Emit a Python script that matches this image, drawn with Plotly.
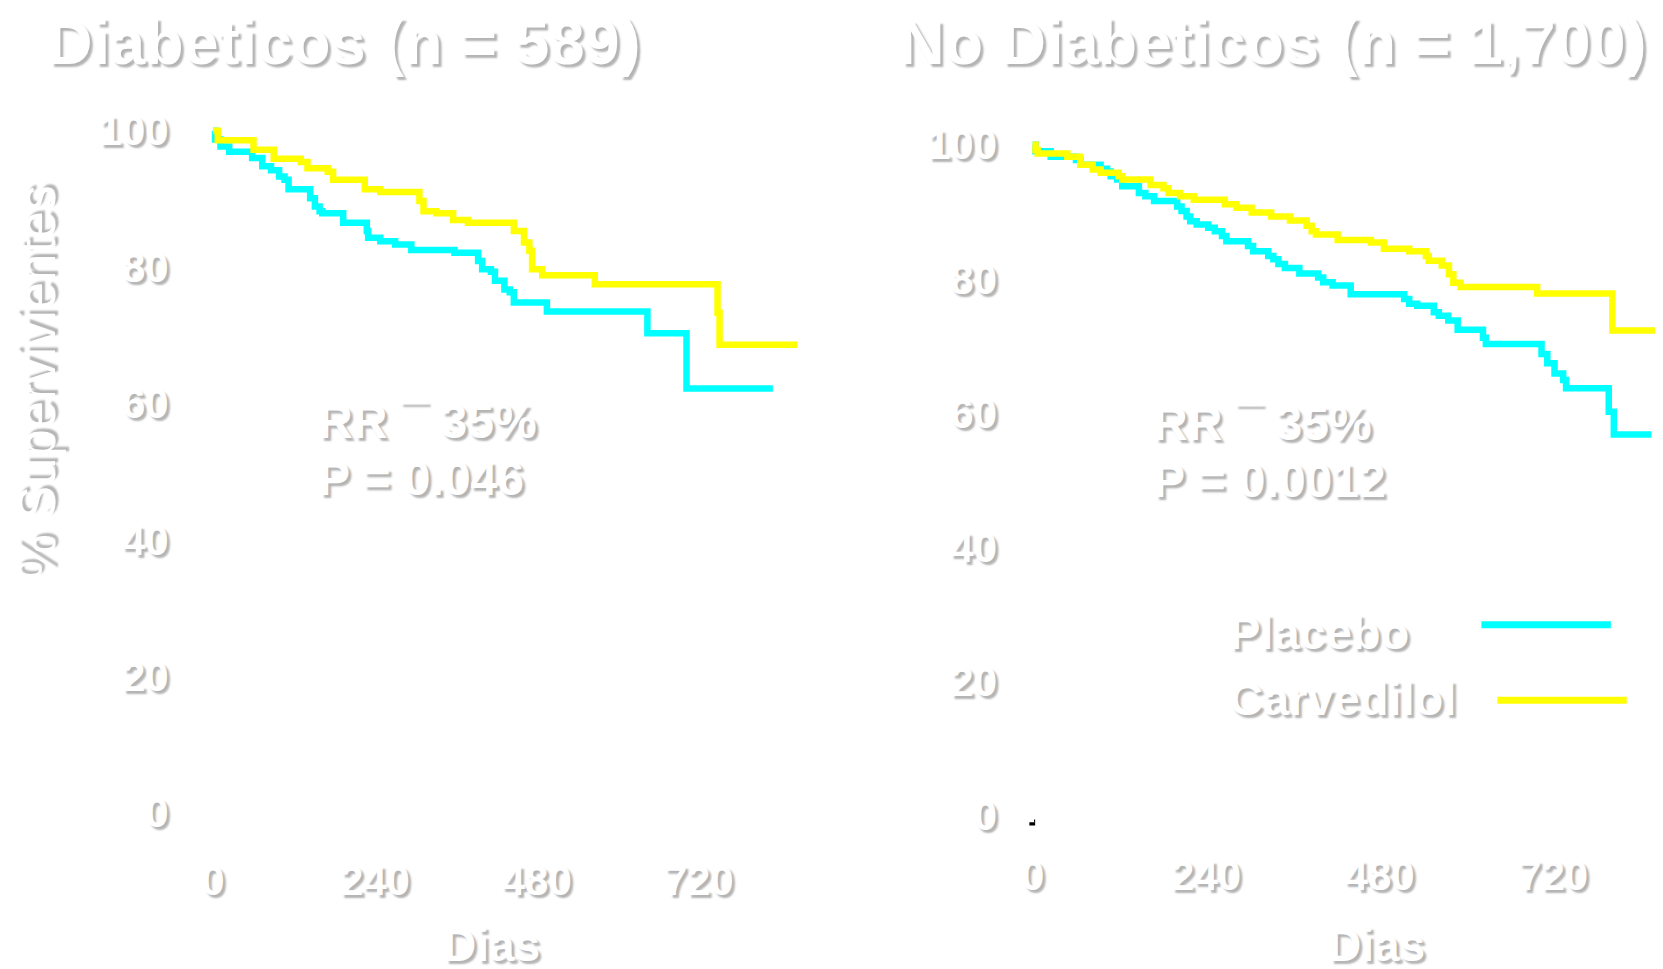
import plotly.graph_objects as go

# ---------------- data ----------------
# Diabeticos (n = 589)
dia_placebo_days = [0, 3, 11, 24, 58, 73, 86, 98, 106, 112, 144, 151, 158, 162, 193, 228, 230,
                    248, 270, 294, 358, 393, 399, 412, 418, 432, 440, 446, 495, 644, 702, 830]
dia_placebo_surv = [100, 98.7, 97.7, 96.9, 96.0, 94.8, 94.2, 93.3, 92.8, 91.4, 90.1, 88.9, 88.2,
                    87.9, 86.5, 85.3, 84.3, 83.8, 83.3, 82.5, 82.1, 80.9, 79.7, 79.3, 78.0, 76.7,
                    76.3, 74.8, 73.5, 70.3, 62.2, 62.2]
dia_carv_days = [0, 7, 60, 90, 130, 140, 170, 178, 225, 248, 306, 312, 331, 356, 378, 446, 461,
                 469, 473, 488, 566, 748, 751, 866]
dia_carv_surv = [100, 98.6, 97.2, 95.9, 95.4, 94.5, 94.0, 92.8, 91.4, 91.0, 89.7, 88.2, 87.9,
                 86.9, 86.5, 85.3, 83.6, 82.4, 79.7, 78.8, 77.5, 73.3, 68.6, 68.6]

# No Diabeticos (n = 1,700)
nodia_placebo_days = [0, 4, 25, 60, 66, 94, 103, 108, 117, 124, 147, 156, 168, 200, 206, 213, 218,
                      227, 243, 252, 262, 268, 298, 305, 326, 333, 340, 349, 369, 395, 402, 415,
                      440, 514, 521, 532, 555, 562, 575, 588, 623, 627, 704, 712, 722, 734, 738,
                      797, 804, 856]
nodia_placebo_surv = [100, 99.0, 98.2, 97.7, 97.0, 96.4, 96.0, 95.3, 94.8, 93.8, 92.8, 92.3, 91.6,
                      90.8, 90.1, 89.3, 88.6, 88.1, 87.6, 87.1, 86.4, 85.6, 84.9, 84.1, 83.4, 82.9,
                      82.2, 81.6, 80.8, 80.2, 79.5, 79.0, 77.7, 77.0, 76.3, 76.0, 75.0, 74.5, 73.8,
                      72.4, 71.2, 70.3, 68.8, 67.4, 65.9, 64.9, 63.7, 60.2, 56.8, 56.8]
nodia_carv_days = [0, 4, 7, 48, 66, 83, 94, 119, 124, 163, 181, 188, 204, 223, 266, 282, 303, 330,
                   356, 379, 386, 392, 422, 468, 486, 521, 544, 548, 566, 576, 582, 592, 698, 802,
                   867]
nodia_carv_surv = [100, 99.2, 98.7, 98.2, 97.0, 96.3, 95.8, 95.3, 94.8, 94.0, 93.5, 92.8, 92.3,
                   91.8, 91.1, 90.6, 89.9, 89.3, 88.7, 87.9, 87.1, 86.6, 85.8, 85.4, 84.5, 84.1,
                   83.4, 82.7, 82.0, 80.7, 79.4, 78.8, 77.8, 72.3, 72.3]

x_ticks = [0, 240, 480, 720]
y_ticks = [0, 20, 40, 60, 80, 100]

panel_titles = ["Diabeticos (n = 589)", "No Diabeticos (n = 1,700)"]
rr_text = ["RR ¯ 35%", "RR ¯ 35%"]
p_text = ["P = 0.046", "P = 0.0012"]
series_names = ["Placebo", "Carvedilol"]
series_colors = ["#00FFFF", "#FFFF00"]

# ---------------- styling ----------------
W, H = 1663, 969
FAM = "Liberation Sans, Arial, sans-serif"
SHADOW = "3px 3px 2px #b4b4b4"


def tfont(size, weight="bold"):
    return dict(family=FAM, size=size, color="white", weight=weight, shadow=SHADOW)


def px(v):
    return v / W


def py(v):
    return 1 - v / H


fig = go.Figure()

panels = [
    (dia_placebo_days, dia_placebo_surv, dia_carv_days, dia_carv_surv, "x", "y"),
    (nodia_placebo_days, nodia_placebo_surv, nodia_carv_days, nodia_carv_surv, "x2", "y2"),
]
for pd_, ps_, cd_, cs_, xa, ya in panels:
    fig.add_trace(go.Scatter(x=pd_, y=ps_, mode="lines", line=dict(color=series_colors[0], width=6.5, shape="hv"),
                             xaxis=xa, yaxis=ya, showlegend=False, name=series_names[0]))
    fig.add_trace(go.Scatter(x=cd_, y=cs_, mode="lines", line=dict(color=series_colors[1], width=6.5, shape="hv"),
                             xaxis=xa, yaxis=ya, showlegend=False, name=series_names[1]))

common_ax = dict(showline=False, showgrid=False, zeroline=False, ticks="", fixedrange=True)

fig.update_layout(
    width=W, height=H,
    margin=dict(l=0, r=0, t=0, b=0),
    paper_bgcolor="white", plot_bgcolor="white",
    showlegend=False,
    xaxis=dict(common_ax, domain=[px(194.6), px(794.4)], range=[-5, 880],
               tickvals=x_ticks, tickfont=tfont(42), ticklabelstandoff=19, anchor="y"),
    yaxis=dict(common_ax, domain=[py(827.1), py(99.9)], range=[-3, 103],
               tickvals=y_ticks, tickfont=tfont(42), ticklabelstandoff=40, anchor="x"),
    xaxis2=dict(common_ax, domain=[px(1017.9), px(1654.2)], range=[-5, 871],
                tickvals=x_ticks, tickfont=tfont(42), ticklabelstandoff=11, anchor="y2"),
    yaxis2=dict(common_ax, domain=[py(829.75), py(114.25)], range=[-3, 103],
                tickvals=y_ticks, tickfont=tfont(42), ticklabelstandoff=31, anchor="x2"),
)

ann = []
# panel titles
ann.append(dict(text=panel_titles[0], x=px(329), y=py(31), font=tfont(63)))
ann.append(dict(text=panel_titles[1], x=px(1263), y=py(31), font=tfont(63)))
# axis titles
ann.append(dict(text="% Supervivientes", x=px(22), y=py(374), textangle=-90, font=tfont(51, "normal")))
ann.append(dict(text="Dias", x=px(478), y=py(940), font=tfont(46)))
ann.append(dict(text="Dias", x=px(1367), y=py(940), font=tfont(46)))
# RR / P
ann.append(dict(text=rr_text[0], x=px(301), y=py(413), xanchor="left", font=tfont(48)))
ann.append(dict(text=p_text[0], x=px(301), y=py(470), xanchor="left", font=tfont(48)))
ann.append(dict(text=rr_text[1], x=px(1140), y=py(415), xanchor="left", font=tfont(48)))
ann.append(dict(text=p_text[1], x=px(1140), y=py(472), xanchor="left", font=tfont(48)))
# legend labels
ann.append(dict(text=series_names[0], x=px(1217), y=py(625), xanchor="left", font=tfont(47)))
ann.append(dict(text=series_names[1], x=px(1217), y=py(692), xanchor="left", font=tfont(47)))

for a in ann:
    a.setdefault("xanchor", "center")
    a.update(xref="paper", yref="paper", yanchor="middle", showarrow=False)
fig.update_layout(annotations=ann)

shapes = [
    # legend line samples
    dict(type="line", xref="paper", yref="paper", x0=px(1472.5), x1=px(1602.5), y0=py(617.5), y1=py(617.5),
         line=dict(color=series_colors[0], width=7)),
    dict(type="line", xref="paper", yref="paper", x0=px(1488.5), x1=px(1618.5), y0=py(693.5), y1=py(693.5),
         line=dict(color=series_colors[1], width=7)),
    # tiny black remnant near the right origin
    dict(type="rect", xref="x2", yref="y2", x0=-4.5, x1=3.5, y0=-1.5, y1=-1.0,
         fillcolor="black", line=dict(width=0)),
    dict(type="rect", xref="x2", yref="y2", x0=2.0, x1=3.5, y0=-1.0, y1=-0.6,
         fillcolor="black", line=dict(width=0)),
]
fig.update_layout(shapes=shapes)

fig.write_html("out.html")
